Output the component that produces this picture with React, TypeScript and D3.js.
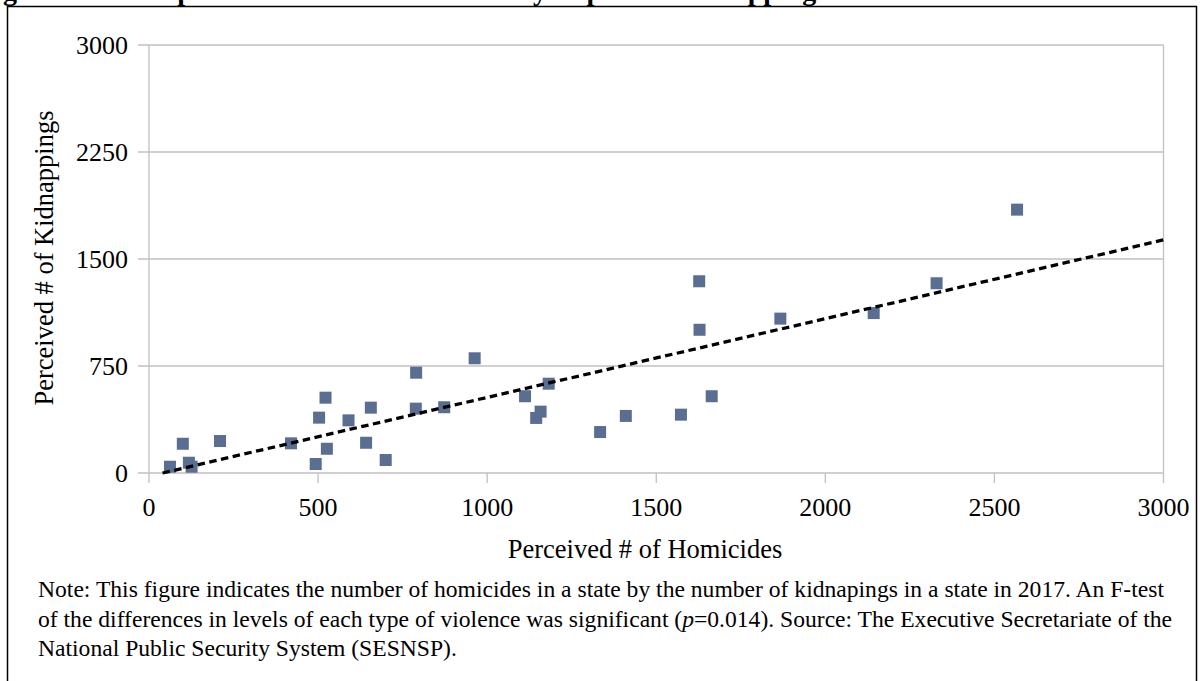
import React from 'react';
import * as d3 from 'd3';

// perceived homicides (x) and kidnappings (y) per state, 2017
const homicides = [62, 100, 118, 126, 210, 420, 493, 503, 522, 526, 590, 642, 656, 700, 790, 789,
  873, 963, 1112, 1145, 1158, 1182, 1334, 1410, 1573, 1627, 1628, 1664, 1867, 2143, 2329, 2567];
const kidnappings = [44, 205, 72, 44, 224, 208, 63, 388, 528, 170, 369, 212, 458, 91, 703, 451,
  461, 804, 538, 386, 430, 626, 287, 400, 409, 1344, 1004, 538, 1082, 1121, 1330, 1846];

// linear trend line end points
const trendX = [40, 3000];
const trendY = [0, 1634];

const xTicks = [0, 500, 1000, 1500, 2000, 2500, 3000];
const yTicks = [0, 750, 1500, 2250, 3000];

const noteLines = [
  'Note: This figure indicates the number of homicides in a state by the number of kidnapings in a state in 2017. An F-test',
  'of the differences in levels of each type of violence was significant (',
  'National Public Security System (SESNSP).',
];

const serif = '"Liberation Serif", "Times New Roman", serif';

export default function App() {
  const width = 1200;
  const height = 681;
  const left = 149, right = 1163.5, top = 45, bottom = 473;

  const x = d3.scaleLinear().domain([0, 3000]).range([left, right]);
  const y = d3.scaleLinear().domain([0, 3000]).range([bottom, top]);

  const pts = homicides.map((h, i) => ({ h, k: kidnappings[i] }));
  const trend = d3.line<number>()
    .x((d) => x(trendX[d]))
    .y((d) => y(trendY[d]))([0, 1]);

  const sq = 12;

  return (
    <div style={{ position: 'absolute', left: 0, top: 0 }}>
      <svg width={width} height={height} style={{ display: 'block', background: '#fff' }}>
        {/* figure caption, clipped by the top of the page as in the source */}
        <text x={-22} y={-0.5} fontFamily={serif} fontWeight="bold" fontSize={28} fill="#000">
          Figure 2. Scatterplot of Perceived Homicides by Reported Kidnappings
        </text>
        <rect x={7.5} y={6.5} width={1189} height={700} fill="none" stroke="#000" strokeWidth={1.5} />

        {/* grid */}
        {yTicks.map((t) => (
          <line key={'g' + t} x1={left - 11} x2={right} y1={y(t)} y2={y(t)} stroke="#c0c0c0" strokeWidth={1.3} />
        ))}
        <line x1={left} x2={left} y1={top} y2={bottom + 10} stroke="#c0c0c0" strokeWidth={1.3} />
        <line x1={right} x2={right} y1={top} y2={bottom + 10} stroke="#c0c0c0" strokeWidth={1.3} />
        {xTicks.slice(1, -1).map((t) => (
          <line key={'xt' + t} x1={x(t)} x2={x(t)} y1={bottom} y2={bottom + 10} stroke="#c0c0c0" strokeWidth={1.3} />
        ))}

        {/* tick labels */}
        {yTicks.map((t) => (
          <text key={'yl' + t} x={128} y={y(t)} dy="0.34em" textAnchor="end"
            fontFamily={serif} fontSize={26} fill="#000">{t}</text>
        ))}
        {xTicks.map((t) => (
          <text key={'xl' + t} x={x(t)} y={516} textAnchor="middle"
            fontFamily={serif} fontSize={26} fill="#000">{t}</text>
        ))}

        {/* points */}
        {pts.map((p, i) => (
          <rect key={i} x={x(p.h) - sq / 2} y={y(p.k) - sq / 2} width={sq} height={sq} fill="#5a6e91" />
        ))}

        {/* trend */}
        <path d={trend || ''} fill="none" stroke="#000" strokeWidth={3.3} strokeDasharray="7.5,4.5" />

        {/* axis titles */}
        <text x={645} y={558} textAnchor="middle" fontFamily={serif} fontSize={26.5} fill="#000">
          Perceived # of Homicides
        </text>
        <text transform={`translate(53,${(top + bottom) / 2 - 1}) rotate(-90)`} textAnchor="middle"
          fontFamily={serif} fontSize={26.5} fill="#000">
          Perceived # of Kidnappings
        </text>

        {/* note */}
        <text x={38} y={597} fontFamily={serif} fontSize={23.6} fill="#000">{noteLines[0]}</text>
        <text x={38} y={627} fontFamily={serif} fontSize={23.6} fill="#000">
          {noteLines[1]}<tspan fontStyle="italic">p</tspan>=0.014). Source: The Executive Secretariate of the
        </text>
        <text x={38} y={656} fontFamily={serif} fontSize={23.6} fill="#000">{noteLines[2]}</text>
      </svg>
    </div>
  );
}
